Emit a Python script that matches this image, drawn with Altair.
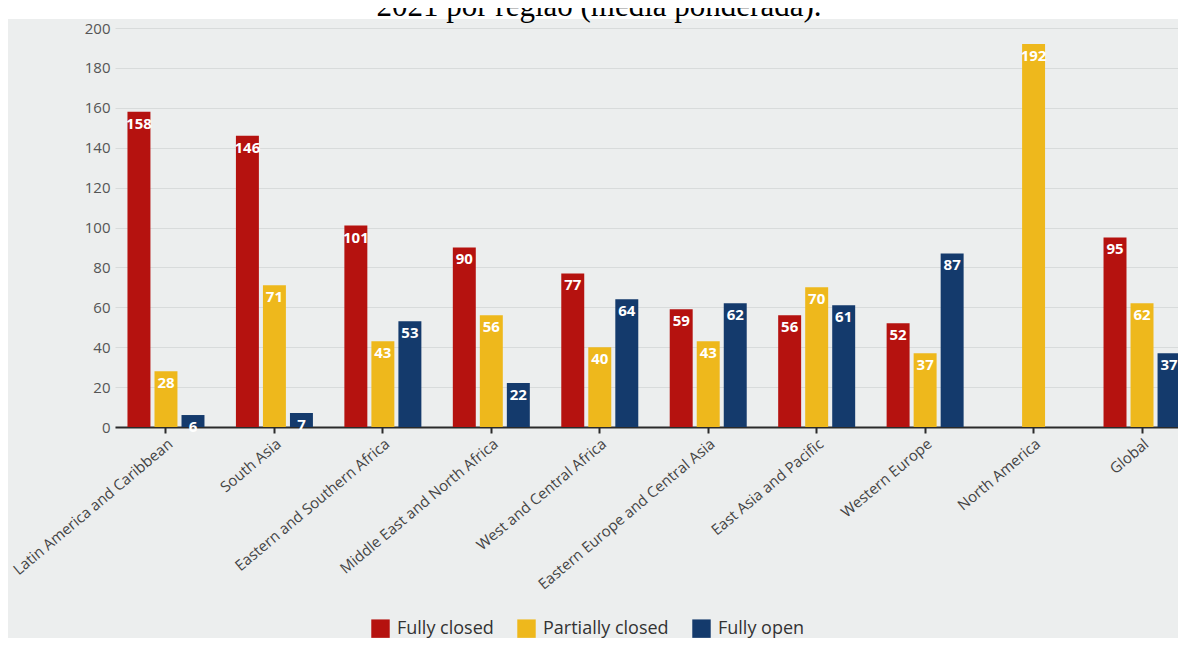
import altair as alt
import pandas as pd

regions = [
    "Latin America and Caribbean", "South Asia", "Eastern and Southern Africa",
    "Middle East and North Africa", "West and Central Africa",
    "Eastern Europe and Central Asia", "East Asia and Pacific",
    "Western Europe", "North America", "Global",
]
statuses = ["Fully closed", "Partially closed", "Fully open"]
fully_closed = [158, 146, 101, 90, 77, 59, 56, 52, None, 95]
partially_closed = [28, 71, 43, 56, 40, 43, 70, 37, 192, 62]
fully_open = [6, 7, 53, 22, 64, 62, 61, 87, None, 37]
colors = ["#b5120f", "#eeb81c", "#143a6c"]
title_text = "2021 por região (média ponderada)."

rows = []
for i, r in enumerate(regions):
    for s, vals in zip(statuses, [fully_closed, partially_closed, fully_open]):
        if vals[i] is not None:
            rows.append({"region": r, "status": s, "value": vals[i]})
df = pd.DataFrame(rows)

W, H = 1063, 399
PAD = {"left": 107, "top": 20, "right": 0, "bottom": 211}

strip = alt.Chart(pd.DataFrame({"a": [0]})).mark_rect(color="white").encode(
    x=alt.value(-107), x2=alt.value(W), y=alt.value(-20), y2=alt.value(-9)
)
title = alt.Chart(pd.DataFrame({"t": [title_text]})).mark_text(
    font="Liberation Serif", fontSize=31, color="#000000", baseline="alphabetic", align="center"
).encode(text="t:N", x=alt.value(484), y=alt.value(-12))

xenc = alt.X(
    "region:N", sort=regions, title=None,
    scale=alt.Scale(range=[0, 1078], paddingInner=0.29, paddingOuter=0.115),
    axis=alt.Axis(
        labelAngle=-40, labelFont="Open Sans", labelFontSize=15, labelColor="#444444",
        labelLimit=400, domainColor="#2a2a2a", domainWidth=2, tickColor="#2a2a2a",
        tickWidth=2, tickSize=6, labelPadding=3, grid=False,
    ),
)
yenc = alt.Y(
    "value:Q", title=None, scale=alt.Scale(domain=[0, 200]),
    axis=alt.Axis(
        values=list(range(0, 201, 20)), labelFont="Open Sans", labelFontSize=15,
        labelColor="#555555", ticks=False, domain=False, labelPadding=5,
        gridColor="#d8dbdb", gridWidth=1.2,
    ),
)
xoff = alt.XOffset("status:N", sort=statuses, scale=alt.Scale(paddingInner=0.15))

bars = alt.Chart(df).mark_bar().encode(
    x=xenc, y=yenc, xOffset=xoff,
    color=alt.Color(
        "status:N", sort=statuses, title=None,
        scale=alt.Scale(domain=statuses, range=colors),
        legend=alt.Legend(
            orient="none", legendX=256, legendY=591, direction="horizontal",
            symbolType="square", symbolSize=340, symbolStrokeWidth=0,
            labelFont="Open Sans", labelFontSize=18, labelColor="#333333",
            labelOffset=7, columnPadding=23,
        ),
    ),
)
labels = alt.Chart(df).mark_text(
    color="white", fontWeight="bold", font="Open Sans", fontSize=15,
    baseline="middle", dy=12,
).encode(x=xenc, y=yenc, xOffset=xoff, text="value:Q")

chart = alt.layer(strip, bars, labels, title).properties(
    width=W, height=H, padding=PAD, autosize=alt.AutoSizeParams(type="none"),
    background="#eceeee",
).configure_view(stroke=None).configure_axisX(zindex=1)

chart.save("out.html", embed_options={"renderer": "svg", "actions": False})
